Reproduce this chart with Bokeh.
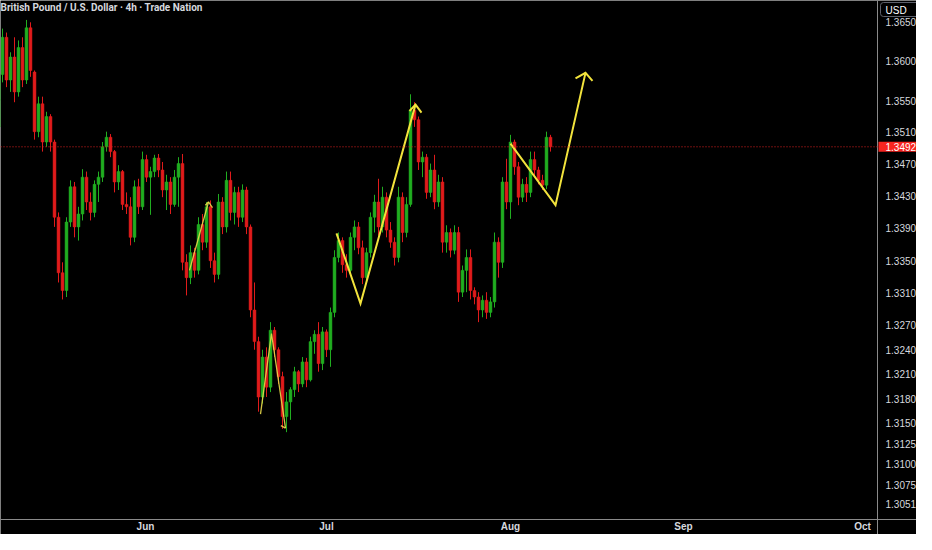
from bokeh.plotting import figure
from bokeh.models import Range1d, FixedTicker, PrintfTickFormatter, Span, Label, ColumnDataSource
from bokeh.embed import file_html
from bokeh.resources import INLINE

# ---- GBP/USD 4h candles ----
open_ = [1.3517, 1.3551, 1.3583, 1.3630, 1.3576, 1.3605, 1.3561, 1.3617, 1.3576, 1.3642,
         1.3586, 1.3511, 1.3546, 1.3498, 1.3530, 1.3498, 1.3404, 1.3335, 1.3313, 1.3398,
         1.3442, 1.3392, 1.3408, 1.3454, 1.3423, 1.3410, 1.3445, 1.3454, 1.3492, 1.3504,
         1.3486, 1.3448, 1.3461, 1.3420, 1.3417, 1.3379, 1.3442, 1.3417, 1.3476, 1.3454,
         1.3461, 1.3478, 1.3463, 1.3438, 1.3448, 1.3420, 1.3454, 1.3471, 1.3348, 1.3329,
         1.3360, 1.3338, 1.3395, 1.3373, 1.3417, 1.3350, 1.3333, 1.3423, 1.3392, 1.3450,
         1.3410, 1.3435, 1.3404, 1.3438, 1.3392, 1.3289, 1.3250, 1.3182, 1.3231, 1.3194,
         1.3264, 1.3240, 1.3207, 1.3158, 1.3176, 1.3191, 1.3213, 1.3198, 1.3225, 1.3203,
         1.3250, 1.3259, 1.3223, 1.3262, 1.3240, 1.3286, 1.3354, 1.3375, 1.3345, 1.3338,
         1.3379, 1.3392, 1.3366, 1.3329, 1.3360, 1.3404, 1.3423, 1.3392, 1.3429, 1.3388,
         1.3373, 1.3354, 1.3429, 1.3385, 1.3420, 1.3538, 1.3526, 1.3473, 1.3479, 1.3435,
         1.3463, 1.3423, 1.3448, 1.3373, 1.3385, 1.3363, 1.3385, 1.3311, 1.3338, 1.3354,
         1.3313, 1.3305, 1.3289, 1.3301, 1.3286, 1.3299, 1.3373, 1.3348, 1.3448, 1.3423,
         1.3498, 1.3467, 1.3429, 1.3445, 1.3435, 1.3476, 1.3463, 1.3450, 1.3444, 1.3504]
high = [1.3561, 1.3592, 1.3641, 1.3636, 1.3611, 1.3630, 1.3626, 1.3630, 1.3652, 1.3649,
        1.3588, 1.3555, 1.3555, 1.3536, 1.3533, 1.3501, 1.3410, 1.3348, 1.3404, 1.3450,
        1.3448, 1.3417, 1.3464, 1.3461, 1.3435, 1.3450, 1.3461, 1.3498, 1.3511, 1.3508,
        1.3488, 1.3469, 1.3463, 1.3435, 1.3429, 1.3450, 1.3452, 1.3486, 1.3482, 1.3467,
        1.3482, 1.3483, 1.3473, 1.3457, 1.3454, 1.3463, 1.3479, 1.3483, 1.3358, 1.3369,
        1.3366, 1.3404, 1.3408, 1.3423, 1.3425, 1.3360, 1.3433, 1.3429, 1.3461, 1.3461,
        1.3442, 1.3442, 1.3445, 1.3442, 1.3395, 1.3323, 1.3256, 1.3240, 1.3243, 1.3274,
        1.3268, 1.3243, 1.3213, 1.3188, 1.3194, 1.3219, 1.3215, 1.3231, 1.3230, 1.3256,
        1.3264, 1.3274, 1.3268, 1.3265, 1.3292, 1.3363, 1.3385, 1.3379, 1.3358, 1.3385,
        1.3400, 1.3398, 1.3375, 1.3366, 1.3410, 1.3432, 1.3452, 1.3442, 1.3435, 1.3398,
        1.3379, 1.3442, 1.3435, 1.3429, 1.3558, 1.3548, 1.3530, 1.3486, 1.3483, 1.3471,
        1.3482, 1.3457, 1.3454, 1.3394, 1.3390, 1.3394, 1.3392, 1.3344, 1.3364, 1.3364,
        1.3317, 1.3311, 1.3307, 1.3311, 1.3305, 1.3385, 1.3379, 1.3454, 1.3477, 1.3507,
        1.3501, 1.3473, 1.3452, 1.3454, 1.3486, 1.3486, 1.3467, 1.3457, 1.3511, 1.3507]
low = [1.3511, 1.3538, 1.3573, 1.3567, 1.3561, 1.3548, 1.3555, 1.3567, 1.3571, 1.3580,
       1.3501, 1.3504, 1.3486, 1.3492, 1.3486, 1.3392, 1.3323, 1.3302, 1.3305, 1.3392,
       1.3379, 1.3375, 1.3400, 1.3413, 1.3400, 1.3404, 1.3423, 1.3448, 1.3486, 1.3479,
       1.3435, 1.3438, 1.3413, 1.3408, 1.3369, 1.3373, 1.3408, 1.3413, 1.3448, 1.3407,
       1.3454, 1.3454, 1.3429, 1.3413, 1.3408, 1.3417, 1.3417, 1.3338, 1.3307, 1.3321,
       1.3329, 1.3333, 1.3363, 1.3366, 1.3341, 1.3323, 1.3327, 1.3383, 1.3385, 1.3400,
       1.3395, 1.3392, 1.3398, 1.3383, 1.3280, 1.3240, 1.3164, 1.3174, 1.3182, 1.3188,
       1.3231, 1.3198, 1.3143, 1.3139, 1.3154, 1.3182, 1.3188, 1.3194, 1.3194, 1.3201,
       1.3235, 1.3213, 1.3215, 1.3231, 1.3219, 1.3280, 1.3348, 1.3335, 1.3329, 1.3332,
       1.3363, 1.3358, 1.3321, 1.3323, 1.3354, 1.3385, 1.3381, 1.3385, 1.3379, 1.3366,
       1.3344, 1.3348, 1.3373, 1.3379, 1.3417, 1.3517, 1.3463, 1.3454, 1.3427, 1.3429,
       1.3414, 1.3417, 1.3360, 1.3360, 1.3354, 1.3358, 1.3299, 1.3305, 1.3311, 1.3302,
       1.3296, 1.3274, 1.3280, 1.3278, 1.3280, 1.3292, 1.3329, 1.3341, 1.3414, 1.3402,
       1.3457, 1.3419, 1.3423, 1.3423, 1.3429, 1.3454, 1.3445, 1.3438, 1.3439, 1.3486]
close = [1.3551, 1.3583, 1.3630, 1.3576, 1.3605, 1.3561, 1.3617, 1.3576, 1.3642, 1.3588,
         1.3511, 1.3546, 1.3498, 1.3530, 1.3498, 1.3404, 1.3335, 1.3313, 1.3398, 1.3442,
         1.3392, 1.3408, 1.3454, 1.3423, 1.3410, 1.3445, 1.3454, 1.3492, 1.3504, 1.3486,
         1.3448, 1.3461, 1.3420, 1.3417, 1.3379, 1.3442, 1.3417, 1.3476, 1.3454, 1.3461,
         1.3478, 1.3463, 1.3438, 1.3448, 1.3420, 1.3454, 1.3471, 1.3348, 1.3329, 1.3360,
         1.3338, 1.3395, 1.3373, 1.3417, 1.3350, 1.3333, 1.3423, 1.3392, 1.3450, 1.3410,
         1.3435, 1.3404, 1.3438, 1.3392, 1.3289, 1.3250, 1.3182, 1.3231, 1.3194, 1.3264,
         1.3240, 1.3207, 1.3158, 1.3176, 1.3191, 1.3213, 1.3198, 1.3225, 1.3203, 1.3250,
         1.3259, 1.3223, 1.3262, 1.3240, 1.3286, 1.3354, 1.3375, 1.3345, 1.3338, 1.3379,
         1.3392, 1.3366, 1.3329, 1.3360, 1.3404, 1.3423, 1.3392, 1.3429, 1.3388, 1.3373,
         1.3354, 1.3429, 1.3385, 1.3420, 1.3538, 1.3526, 1.3473, 1.3479, 1.3435, 1.3463,
         1.3423, 1.3448, 1.3373, 1.3385, 1.3363, 1.3385, 1.3311, 1.3338, 1.3354, 1.3313,
         1.3305, 1.3289, 1.3301, 1.3286, 1.3299, 1.3373, 1.3348, 1.3448, 1.3423, 1.3498,
         1.3467, 1.3429, 1.3445, 1.3435, 1.3476, 1.3463, 1.3450, 1.3444, 1.3504, 1.3492]

last_price = 1.3492
price_ticks = [1.3051, 1.3075, 1.3100, 1.3125, 1.3150, 1.3180, 1.3210, 1.3240, 1.3270,
               1.3310, 1.3350, 1.3390, 1.3430, 1.3470, 1.3510, 1.3550, 1.3600, 1.3650]
month_ticks = [37.75, 83, 129, 172.25, 217]
month_labels = ["Jun", "Jul", "Aug", "Sep", "Oct"]
currency = "USD"

# hand-drawn projections (bar index, price): thin June sketches, bold Jul/Aug zigzags
thin_x = [[48.75, 53.5], [52.7, 53.5, 54.5], [66.5, 69.25, 72.75], [71.6, 72.75]]
thin_y = [[1.3338, 1.3423], [1.3419, 1.3423, 1.3416], [1.3161, 1.3260, 1.3144], [1.3147, 1.3144]]
bold_x = [[85.5, 91.5, 105.25], [103.75, 105.25, 106.75], [129, 140.25, 147.75], [145.25, 147.75, 149.5]]
bold_y = [[1.3384, 1.3297, 1.3545], [1.3537, 1.3545, 1.3535], [1.3496, 1.3419, 1.3585], [1.3578, 1.3585, 1.3575]]

title_text = "British Pound / U.S. Dollar · 4h · Trade Nation"

UP = "#20ad20"
DOWN = "#e01b1b"
TXT = "#d6d8de"
AXIS = "#8a8a8a"
YEL = "#f2e33c"

# view window (bar index / price) and where the price & time scales sit
x_lo, x_hi = 1.5, 230.5
y_lo, y_hi = 1.301466, 1.367666
price_scale_at = 220.75
time_scale_at = 1.303280

bar_x = list(range(len(close)))
colors = [UP if c >= o else DOWN for o, c in zip(open_, close)]
src = ColumnDataSource(dict(x=bar_x, open=open_, high=high, low=low, close=close, color=colors))

p = figure(width=916, height=534, x_range=Range1d(x_lo, x_hi), y_range=Range1d(y_lo, y_hi),
           y_axis_type="log", y_axis_location="right", output_backend="svg",
           toolbar_location=None, background_fill_color="#000000", border_fill_color="#000000",
           min_border_left=0, min_border_top=0, min_border_right=0, min_border_bottom=0,
           outline_line_color=None)
p.grid.visible = False

p.segment(x0="x", y0="high", x1="x", y1="low", line_color="color", line_width=1, source=src)
p.vbar(x="x", width=0.72, top="open", bottom="close", fill_color="color", line_color="color",
       line_width=0.5, source=src)

p.add_layout(Span(location=last_price, dimension="width", line_color="#e02020",
                  line_dash="1 2", line_width=1))

p.multi_line(xs=thin_x, ys=thin_y, line_color="#e9d94a", line_alpha=0.9, line_width=1.3)
p.multi_line(xs=bold_x, ys=bold_y, line_color=YEL, line_width=2, line_join="miter")

# price scale (right)
ya = p.yaxis[0]
ya.fixed_location = price_scale_at
ya.ticker = FixedTicker(ticks=price_ticks)
ya.formatter = PrintfTickFormatter(format="%.4f")
ya.major_label_text_color = TXT
ya.major_label_text_font = "Liberation Sans"
ya.major_label_text_font_size = "10px"
ya.axis_line_color = AXIS
ya.major_tick_line_color = None
ya.minor_tick_line_color = None
ya.major_tick_out = 0
ya.major_label_standoff = 8

# time scale (bottom)
xa = p.xaxis[0]
xa.fixed_location = time_scale_at
xa.ticker = FixedTicker(ticks=month_ticks)
xa.major_label_overrides = {t: lab for t, lab in zip(month_ticks, month_labels)}
xa.major_label_text_color = TXT
xa.major_label_text_font = "Liberation Sans"
xa.major_label_text_font_size = "10px"
xa.major_label_text_font_style = "bold"
xa.axis_line_color = AXIS
xa.major_tick_line_color = None
xa.minor_tick_line_color = None
xa.major_tick_out = 0
xa.major_label_standoff = 1

# last price tag on the price scale
p.add_layout(Label(x=price_scale_at, y=last_price, x_offset=1, text=f"{last_price:.4f}",
                   text_color="#ffffff", text_font="Liberation Sans", text_font_size="10px",
                   text_baseline="middle", text_align="left",
                   background_fill_color="#f7251f",
                   padding=dict(left=7, right=6, top=1, bottom=1)))
# currency box
p.add_layout(Label(x=price_scale_at, y=y_hi, x_offset=3, y_offset=-2, text=currency,
                   text_color="#ffffff", text_font="Liberation Sans", text_font_size="10px",
                   text_baseline="top", text_align="left",
                   background_fill_color="#000000", border_line_color="#5d606b",
                   border_radius=3,
                   padding=dict(left=5, right=15, top=2, bottom=1)))
# title
p.add_layout(Label(x=x_lo, y=y_hi, x_offset=0, y_offset=-1, text=title_text,
                   text_color=TXT, text_font="Roboto", text_font_size="10px",
                   text_font_style="bold", text_baseline="top", text_align="left"))

open("out.html", "w").write(file_html(p, INLINE))
